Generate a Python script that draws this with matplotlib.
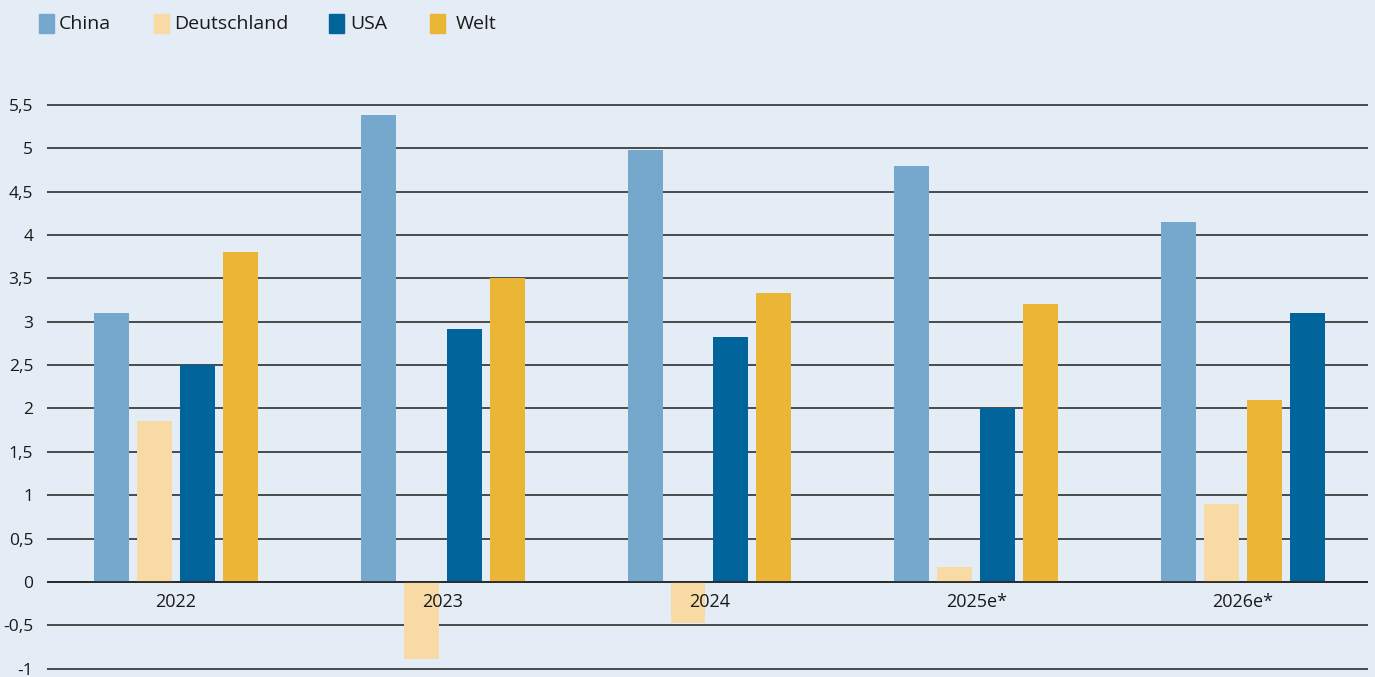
import numpy as np
import matplotlib.pyplot as plt
from matplotlib.patches import Rectangle

plt.rcParams['font.family'] = ['Open Sans', 'DejaVu Sans']

# ==========================
# Données
# ==========================
years = ["2022", "2023", "2024", "2025e*", "2026e*"]
series = ["China", "Deutschland", "USA", "Welt"]

china = [3.1, 5.38, 4.98, 4.8, 4.15]
deutschland = [1.85, -0.89, -0.47, 0.17, 0.9]
# 3. und 4. Balken je Gruppe (im Original 2026 farblich vertauscht)
bar3 = [2.5, 2.92, 2.82, 2.0, 2.1]
bar4 = [3.8, 3.5, 3.33, 3.2, 3.1]

c_china = "#76a8ce"
c_de = "#f8dba4"
c_usa = "#01659c"
c_welt = "#ebb535"
bg = "#e4ecf5"
txt = "#1a1a1a"

bar3_colors = [c_usa, c_usa, c_usa, c_usa, c_welt]
bar4_colors = [c_welt, c_welt, c_welt, c_welt, c_usa]

# ==========================
# Figure
# ==========================
W, H = 1375, 677
fig = plt.figure(figsize=(W / 100, H / 100), dpi=100, facecolor=bg)
ax = fig.add_axes([0.0342, 0.0, 0.9607, 0.867], facecolor=bg)

x = np.arange(len(years))
w = 0.131
step = 0.161

ax.bar(x - 1.5 * step, china, w, color=c_china, zorder=3)
ax.bar(x - 0.5 * step, deutschland, w, color=c_de, zorder=3)
ax.bar(x + 0.5 * step, bar3, w, color=bar3_colors, zorder=3)
ax.bar(x + 1.5 * step, bar4, w, color=bar4_colors, zorder=3)

ax.set_xlim(-0.4836, 4.469)
ax.set_ylim(-1.096, 5.67)

yticks = [-1, -0.5, 0, 0.5, 1, 1.5, 2, 2.5, 3, 3.5, 4, 4.5, 5, 5.5]
ax.set_yticks(yticks)
ax.set_yticklabels([("%g" % v).replace(".", ",") for v in yticks])
ax.set_axisbelow(True)
ax.yaxis.grid(True, color="#1e1e1e", linewidth=1.1)
ax.axhline(0, color="#2a2a2a", linewidth=1.3, zorder=4)

# Jahresbeschriftung direkt unter der Nulllinie, über den Balken
ax.set_xticks([])
for xi, lab in zip(x, years):
    ax.annotate(lab, (xi, 0), xytext=(0, -11), textcoords="offset pixels",
                ha="center", va="top", fontsize=13, color=txt, zorder=6)

for s in ax.spines.values():
    s.set_visible(False)
ax.tick_params(axis='y', length=0, pad=10, labelsize=12.5, labelcolor=txt)

# ==========================
# Légende (manuelle)
# ==========================
leg_sq_x = [39, 154, 329, 430]
leg_tx_x = [59, 174, 350, 456]
for sx, tx, lab, c in zip(leg_sq_x, leg_tx_x, series,
                          [c_china, c_de, c_usa, c_welt]):
    fig.patches.append(Rectangle((sx / W, 1 - 33 / H), 15 / W, 19 / H,
                                 transform=fig.transFigure, color=c))
    fig.text(tx / W, 1 - 24 / H, lab, ha="left", va="center",
             fontsize=14, color=txt)

plt.savefig("out.png", dpi=100, facecolor=bg)
